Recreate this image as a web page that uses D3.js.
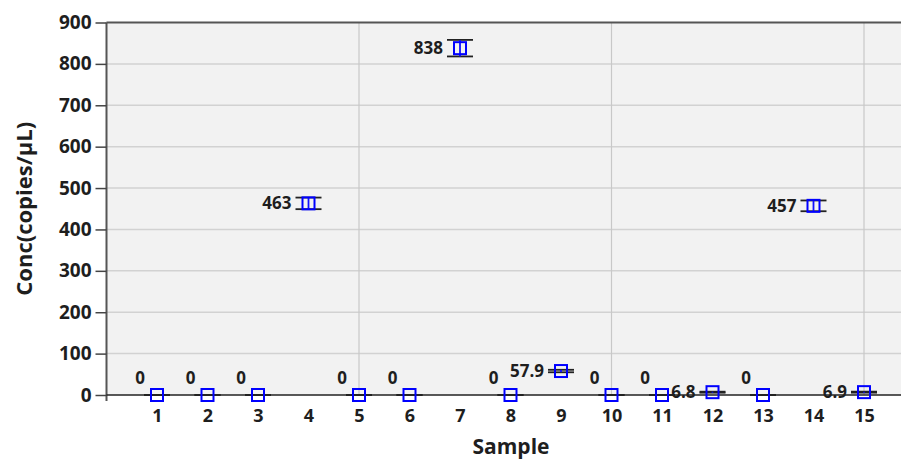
<!DOCTYPE html>
<html>
<head>
<meta charset="utf-8">
<script src="https://cdn.jsdelivr.net/npm/d3@7"></script>
<style>
  html, body { margin: 0; padding: 0; background: #fff; }
  svg { display: block; }
  text { font-family: "Open Sans", "Noto Sans", "DejaVu Sans", sans-serif; font-weight: 700; fill: #1e1e1e; }
</style>
</head>
<body>
<svg id="chart" width="901" height="459"></svg>
<script>
// Sample numbers, measured concentrations and their error half-widths
const samples = [1, 2, 3, 4, 5, 6, 7, 8, 9, 10, 11, 12, 13, 14, 15];
const conc    = [0, 0, 0, 463, 0, 0, 838, 0, 57.9, 0, 0, 6.8, 0, 457, 6.9];
const errors  = [0, 0, 0, 14, 0, 0, 20, 0, 3, 0, 0, 1.2, 0, 13, 1.2];
const yTicks  = [0, 100, 200, 300, 400, 500, 600, 700, 800, 900];
const xGrid   = [5, 10, 15];

const svg = d3.select("#chart");
const W = 901, H = 459;
const plotLeft = 106.5, plotTop = 22.5, plotBottom = 395;
const plotRight = 914.5;

const x = d3.scaleLinear().domain([0, 16]).range([plotLeft, plotRight]);
const y = d3.scaleLinear().domain([0, 900]).range([plotBottom, plotTop]);

// plot background
svg.append("rect")
  .attr("x", plotLeft).attr("y", plotTop)
  .attr("width", W - plotLeft).attr("height", plotBottom - plotTop)
  .attr("fill", "#f2f2f2");

// horizontal grid
svg.append("g").selectAll("line").data(yTicks.filter(d => d > 0 && d < 900)).join("line")
  .attr("x1", plotLeft).attr("x2", W)
  .attr("y1", d => y(d)).attr("y2", d => y(d))
  .attr("stroke", "#d2d2d2").attr("stroke-width", 1.5);

// vertical grid
svg.append("g").selectAll("line").data(xGrid).join("line")
  .attr("x1", d => x(d)).attr("x2", d => x(d))
  .attr("y1", plotTop).attr("y2", plotBottom)
  .attr("stroke", "#c8c8c8").attr("stroke-width", 1.2);

// top border
svg.append("line")
  .attr("x1", plotLeft).attr("x2", W).attr("y1", plotTop).attr("y2", plotTop)
  .attr("stroke", "#555").attr("stroke-width", 2);

// y axis
const yAxis = svg.append("g")
  .attr("transform", `translate(${plotLeft},0)`)
  .call(d3.axisLeft(y).tickValues(yTicks).tickSize(11).tickPadding(4).tickSizeOuter(0));
yAxis.select(".domain").attr("stroke", "#555").attr("stroke-width", 2)
  .attr("d", `M0,${plotTop}V${plotBottom + 6}`);
yAxis.selectAll(".tick line").attr("stroke", "#444").attr("stroke-width", 1.5);
yAxis.selectAll(".tick text").style("font-size", "19px").attr("fill", "#1e1e1e");

// baseline at zero
svg.append("line")
  .attr("x1", plotLeft).attr("x2", W).attr("y1", y(0)).attr("y2", y(0))
  .attr("stroke", "#222").attr("stroke-width", 1.5);

// x axis labels
const xAxis = svg.append("g")
  .attr("transform", `translate(0,${plotBottom})`)
  .call(d3.axisBottom(x).tickValues(samples).tickSize(0).tickPadding(14));
xAxis.select(".domain").remove();
xAxis.selectAll(".tick text").style("font-size", "18px").attr("fill", "#1e1e1e");

// axis titles
svg.append("text")
  .attr("x", 511).attr("y", 454)
  .attr("text-anchor", "middle")
  .style("font-size", "21px")
  .text("Sample");

svg.append("text")
  .attr("transform", `translate(32,${(plotTop + plotBottom) / 2}) rotate(-90)`)
  .attr("text-anchor", "middle")
  .style("font-size", "22px")
  .text("Conc(copies/μL)");

// points with error bars
const pts = samples.map((s, i) => ({ s, v: conc[i], e: errors[i] }));
const capW = 13, sq = 12;

const g = svg.append("g");
pts.forEach(p => {
  const cx = x(p.s);
  const yHi = y(p.v + p.e), yLo = y(Math.max(0, p.v - p.e));
  // caps
  g.append("line").attr("x1", cx - capW).attr("x2", cx + capW)
    .attr("y1", yHi).attr("y2", yHi).attr("stroke", "#222").attr("stroke-width", 1.8);
  g.append("line").attr("x1", cx - capW).attr("x2", cx + capW)
    .attr("y1", yLo).attr("y2", yLo)
    .attr("stroke", "#222").attr("stroke-width", 1.8);
  // stem
  g.append("line").attr("x1", cx).attr("x2", cx)
    .attr("y1", yHi).attr("y2", yLo).attr("stroke", "#1010ff").attr("stroke-width", 1.8);
  // square marker
  g.append("rect")
    .attr("x", cx - sq / 2).attr("y", y(p.v) - sq / 2)
    .attr("width", sq).attr("height", sq)
    .attr("fill", "none").attr("stroke", "#0000ff").attr("stroke-width", 2);
  // value label
  const zero = p.v === 0;
  g.append("text")
    .attr("x", zero ? cx - 12 : cx - 17)
    .attr("y", zero ? y(p.v) - 17 : y(p.v))
    .attr("dy", "0.36em")
    .attr("text-anchor", "end")
    .style("font-size", "17px")
    .text(String(p.v));
});
</script>
</body>
</html>
